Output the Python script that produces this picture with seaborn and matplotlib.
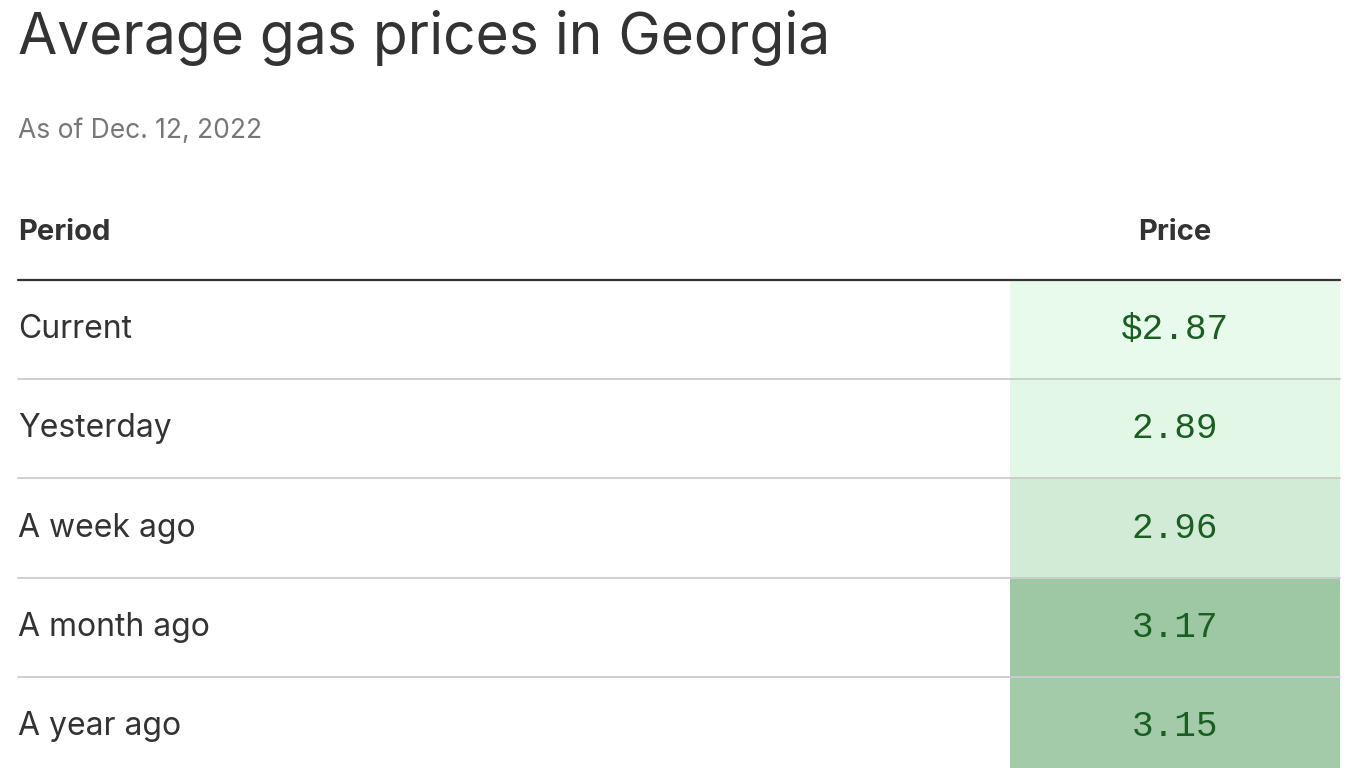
import seaborn as sns
import matplotlib.pyplot as plt
import numpy as np
from matplotlib.colors import LinearSegmentedColormap

sns.set_theme(style="white")
plt.rcParams['font.family'] = ['Inter', 'DejaVu Sans']

# Data
periods = ["Current", "Yesterday", "A week ago", "A month ago", "A year ago"]
prices = [2.87, 2.89, 2.96, 3.17, 3.15]
labels = ["$2.87", "2.89", "2.96", "3.17", "3.15"]

W, H = 1366, 768
fig = plt.figure(figsize=(W / 100, H / 100), dpi=100)

# Base axes in pixel coordinates for text and rules
base = fig.add_axes([0, 0, 1, 1])
base.set_xlim(0, W)
base.set_ylim(H, 0)
base.axis("off")

base.text(18, 38, "Average gas prices in Georgia", fontsize=41, color="#333333", va="center")
base.text(18, 131, "As of Dec. 12, 2022", fontsize=19, color="#777777", va="center")
base.text(18, 233, "Period", fontsize=21, fontweight="bold", color="#333333", va="center")
base.text(1175, 233, "Price", fontsize=21, fontweight="bold", color="#333333", va="center", ha="center")

row_h = 99.2
top = 280
base.plot([18, 1340], [top, top], color="#333333", lw=1.6)
for i, p in enumerate(periods):
    base.text(18, top + row_h * (i + 0.5), p, fontsize=23, color="#333333", va="center")
    if i > 0:
        base.plot([18, 1340], [top + row_h * i] * 2, color="#cccccc", lw=1.3)

# Price column as a heatmap
cmap = LinearSegmentedColormap.from_list("g", ["#e8faec", "#9ec8a4"])
hx0, hx1 = 1010, 1340
hax = fig.add_axes([hx0 / W, (H - (top + row_h * 5)) / H, (hx1 - hx0) / W, row_h * 5 / H])
data = np.array(prices).reshape(-1, 1)
annot = np.array(labels).reshape(-1, 1)
sns.heatmap(data, ax=hax, cmap=cmap, vmin=2.87, vmax=3.17, cbar=False,
            annot=annot, fmt="", xticklabels=False, yticklabels=False,
            annot_kws={"fontsize": 26, "color": "#1b5e22", "family": "Liberation Mono"})
for i in range(1, 5):
    hax.axhline(i, color="#cccccc", lw=1.3)
hax.set_zorder(0)
base.set_zorder(1)
base.patch.set_alpha(0)

fig.savefig("out.png", dpi=100)
